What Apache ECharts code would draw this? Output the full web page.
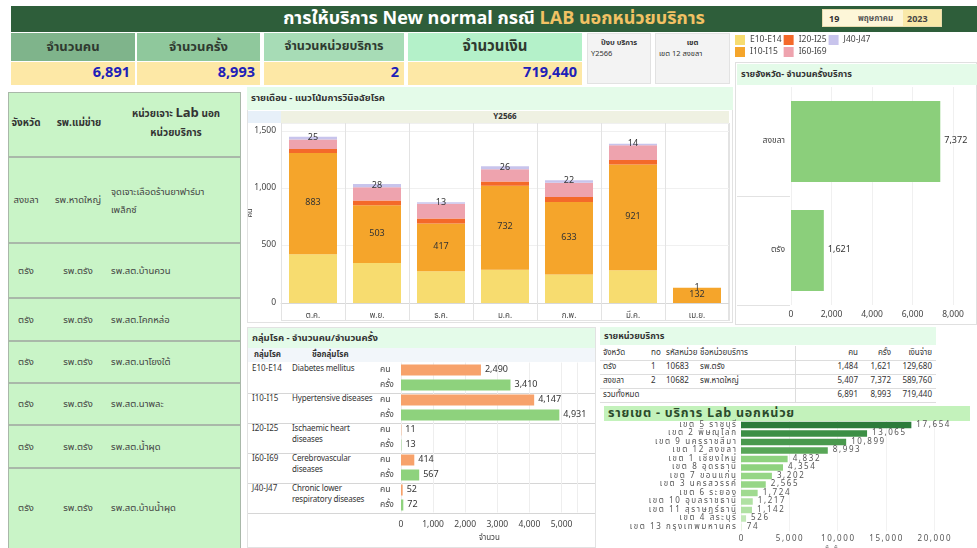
<!DOCTYPE html>
<html><head><meta charset="utf-8">
<script src="https://cdn.jsdelivr.net/npm/echarts@6/dist/echarts.min.js"></script>
<style>
html,body{margin:0;padding:0;}
body{width:977px;height:548px;overflow:hidden;background:#fff;position:relative;font-family:Tahoma,"Noto Sans Thai","Noto Sans","DejaVu Sans",sans-serif;color:#333;}
.a{position:absolute;box-sizing:border-box;white-space:nowrap;}
#chart{position:absolute;left:0;top:0;width:977px;height:548px;z-index:5;pointer-events:none;}
</style></head>
<body>
<div id="bg"></div>
<div id="chart"></div>
<script>
// ---------- DATA ----------
const titleMain = 'การให้บริการ New normal กรณี ';
const titleHi = 'LAB นอกหน่วยบริการ';
const dateParts = ['19','พฤษภาคม','2023'];
const kpiNames = ['จำนวนคน','จำนวนครั้ง','จำนวนหน่วยบริการ','จำนวนเงิน'];
const kpiValues = [6891, 8993, 2, 719440];
const filterYearLabel = 'ปีงบ บริการ', filterYear = 'Y2566';
const filterZoneLabel = 'เขต', filterZone = 'เขต 12 สงขลา';

const tblHead = ['จังหวัด','รพ.แม่ข่าย'];
const tblProv = ['สงขลา','ตรัง','ตรัง','ตรัง','ตรัง','ตรัง','ตรัง'];
const tblHosp = ['รพ.หาดใหญ่','รพ.ตรัง','รพ.ตรัง','รพ.ตรัง','รพ.ตรัง','รพ.ตรัง','รพ.ตรัง'];
const tblUnit = ['จุดเจาะเลือดร้านยาฟาร์มา|เพล็กซ์','รพ.สต.บ้านควน','รพ.สต.โคกหล่อ','รพ.สต.นาโยงใต้','รพ.สต.นาพละ','รพ.สต.น้ำผุด','รพ.สต.บ้านน้ำผุด'];

const months = ['ต.ค.','พ.ย.','ธ.ค.','ม.ค.','ก.พ.','มี.ค.','เม.ย.'];
const groupNames = ['E10-E14','I10-I15','I20-I25','I60-I69','J40-J47'];
const mE10 = [426, 349, 277, 291, 249, 286, 0];
const mI10 = [883, 503, 417, 732, 633, 921, 132];
const mI20 = [35, 43, 43, 37, 43, 40, 0];
const mI60 = [81, 114, 129, 106, 123, 129, 0];
const mJ40 = [25, 28, 13, 26, 22, 14, 1];
const monthTicks = [0, 500, 1000, 1500];

const provinces = ['สงขลา','ตรัง'];
const provVisits = [7372, 1621];

const disCodes = ['E10-E14','I10-I15','I20-I25','I60-I69','J40-J47'];
const disNames = ['Diabetes mellitus','Hypertensive diseases','Ischaemic heart|diseases','Cerebrovascular|diseases','Chronic lower|respiratory diseases'];
const disPersons = [2490, 4147, 11, 414, 52];
const disVisits = [3410, 4931, 13, 567, 72];
const measures = ['คน','ครั้ง'];

const unitHead = ['จังหวัด','no','รหัสหน่วย','ชื่อหน่วยบริการ','คน','ครั้ง','เงินจ่าย'];
const unitProv = ['ตรัง','สงขลา'];
const unitNo = [1, 2];
const unitCode = ['10683','10682'];
const unitName = ['รพ.ตรัง','รพ.หาดใหญ่'];
const unitPersons = [1484, 5407];
const unitVisits = [1621, 7372];
const unitPay = [129680, 589760];
const totalLabel = 'รวมทั้งหมด';
const totalPersons = 6891, totalVisits = 8993, totalPay = 719440;

const zoneNames = ['เขต 5 ราชบุรี','เขต 2 พิษณุโลก','เขต 9 นครราชสีมา','เขต 12 สงขลา','เขต 1 เชียงใหม่','เขต 8 อุดรธานี','เขต 7 ขอนแก่น','เขต 3 นครสวรรค์','เขต 6 ระยอง','เขต 10 อุบลราชธานี','เขต 11 สุราษฎร์ธานี','เขต 4 สระบุรี','เขต 13 กรุงเทพมหานคร'];
const zoneVisits = [17654, 13065, 10899, 8993, 4832, 4354, 3202, 2565, 1724, 1217, 1142, 526, 74];

// ---------- LAYOUT (HTML backgrounds / tables) ----------
const fmt = v => Number(v).toLocaleString('en-US');
const seg = (typeof Intl !== 'undefined' && Intl.Segmenter) ? new Intl.Segmenter('th', { granularity: 'grapheme' }) : null;
const spaced = s => seg ? Array.from(seg.segment(String(s)), x => x.segment).join('\u2009') : String(s);
const bg = document.getElementById('bg');
function box(l, t, w, h, css, html) {
  const d = document.createElement('div');
  d.className = 'a';
  d.style.cssText = `left:${l}px;top:${t}px;width:${w}px;height:${h}px;` + (css || '');
  if (html !== undefined) d.innerHTML = html;
  bg.appendChild(d);
  return d;
}
function txt(l, t, s, css) { return box(l, t, 0, 0, 'width:auto;height:auto;' + (css || ''), s); }

// header bar
box(11, 6, 966, 26, 'background:#2e5e3a;');
box(11, 6, 966, 26, 'text-align:center;line-height:26px;font-size:18px;font-weight:bold;color:#fff;',
  titleMain + `<span style="color:#f2c264">${titleHi}</span>`);
box(822, 9, 120, 18, 'background:#fdf6d8;border:1px solid #e8dcae;');
box(903, 10, 38, 16, 'background:#f9e9a9;');
txt(829, 12, dateParts[0], 'font-size:9px;font-weight:bold;color:#333;');
txt(858, 13, dateParts[1], 'font-size:8px;font-weight:bold;color:#555;');
txt(907, 12, dateParts[2], 'font-size:9px;font-weight:bold;color:#444;');

// KPI cards
const kpiX = [11, 137, 264, 408], kpiW = [124, 123, 140, 174];
const kpiBg = ['#7fb48b', '#8fc89c', '#a7dcb6', '#b4f1c9'];
const kpiFs = [13, 13, 12.5, 15];
kpiNames.forEach((n, i) => {
  box(kpiX[i], 33, kpiW[i], 28, `background:${kpiBg[i]};text-align:center;line-height:28px;font-size:${kpiFs[i]}px;font-weight:bold;color:#2f3a30;`, n);
  box(kpiX[i], 62, kpiW[i], 23, `background:#fde8a6;text-align:right;line-height:23px;font-size:14.5px;font-weight:bold;color:#2020b8;padding-right:5px;`, fmt(kpiValues[i]));
});

// filter cards
box(587, 33, 64, 51, 'background:#f3f3f3;border:1px solid #e2e2e2;font-size:7.5px;color:#333;padding:3px 3px;white-space:normal;',
  `<div style="text-align:center;font-weight:bold">${filterYearLabel}</div><div>${filterYear}</div>`);
box(655, 33, 75, 51, 'background:#f3f3f3;border:1px solid #e2e2e2;font-size:7.5px;color:#333;padding:3px 3px;white-space:normal;',
  `<div style="text-align:center;font-weight:bold">${filterZoneLabel}</div><div>${filterZone}</div>`);

// left table
box(8, 92, 233, 460, 'background:#c9f4c7;border:1.5px solid #a9b8a9;');
[156, 242, 297, 340, 382, 424, 467].forEach(y => box(8, y, 233, 2, 'background:#a9b8a9;'));
box(8, 115, 36, 20, 'text-align:center;font-size:10px;font-weight:bold;color:#333;', tblHead[0]);
box(44, 115, 70, 20, 'text-align:center;font-size:10px;font-weight:bold;color:#333;', tblHead[1]);
box(112, 103, 128, 20, 'text-align:center;font-size:10px;font-weight:bold;color:#333;', 'หน่วยเจาะ <span style="font-size:13px">Lab</span> นอก');
box(112, 125, 128, 20, 'text-align:center;font-size:10px;font-weight:bold;color:#333;', 'หน่วยบริการ');
const rowTops = [156, 242, 297, 340, 382, 424, 467], rowBots = [242, 297, 340, 382, 424, 467, 548];
tblProv.forEach((p, i) => {
  const c = (rowTops[i] + rowBots[i]) / 2 + (i === 6 ? 1 : 2);
  box(8, c - 8, 36, 16, 'text-align:center;font-size:9.5px;color:#444;', p);
  box(44, c - 8, 68, 16, 'text-align:center;font-size:9.5px;color:#444;', tblHosp[i]);
  const parts = tblUnit[i].split('|');
  if (parts.length > 1) {
    box(111, c - 16, 128, 16, 'font-size:9.5px;color:#444;', parts[0]);
    box(111, c + 2, 128, 16, 'font-size:9.5px;color:#444;', parts[1]);
  } else box(111, c - 8, 128, 16, 'font-size:9.5px;color:#444;', parts[0]);
});

// monthly panel
box(247, 87, 486, 236, 'border:1px solid #e2e2e2;');
box(247, 87, 486, 23, 'background:#e4fbe9;font-size:9.5px;font-weight:bold;color:#333;line-height:23px;padding-left:4px;', 'รายเดือน - แนวโน้มการวินิจฉัยโรค');
box(248, 111, 33, 12, 'background:#e7f0f9;');
box(281, 111, 448, 12, 'background:#eff1e2;text-align:center;font-size:8px;font-weight:bold;line-height:12px;color:#333;', filterYear);
box(281, 123, 448, 198, 'border-left:1px solid #e3e3e3;border-right:1px solid #e3e3e3;border-bottom:1px solid #e3e3e3;');

// province panel
box(735, 62, 242, 263, 'border:1px solid #e0e0e0;');
box(737, 64, 240, 21, 'background:#e4fbe9;font-size:9px;font-weight:bold;color:#333;line-height:21px;padding-left:4px;', 'รายจังหวัด- จำนวนครั้งบริการ');
box(737, 196, 53, 1, 'background:#e2e2e2;');
box(737, 305, 53, 1, 'background:#e2e2e2;');

// disease panel
box(247, 327, 349, 221, 'border:1px solid #e2e2e2;');
box(248, 328, 347, 20, 'background:#e4fbe9;font-size:9.5px;font-weight:bold;color:#333;line-height:20px;padding-left:4px;', 'กลุ่มโรค - จำนวนคน/จำนวนครั้ง');
box(248, 348, 347, 14, 'background:#f2f6fa;');
box(254, 349, 50, 13, 'font-size:8px;font-weight:bold;color:#333;', 'กลุ่มโรค');
box(312, 349, 60, 13, 'font-size:8px;font-weight:bold;color:#333;', 'ชื่อกลุ่มโรค');
disCodes.forEach((c, i) => {
  const t = 362.5 + 30 * i;
  if (i > 0) box(248, t, 347, 1, 'background:#d6d6d6;');
  box(252, t + 0.5, 40, 12, 'font-size:8px;color:#333;', c);
  const nm = disNames[i].split('|');
  nm.forEach((s, k) => box(292, t + 0.5 + k * 11, 86, 12, 'font-size:8px;color:#333;letter-spacing:-0.15px;', s));
});
box(248, 512.5, 347, 1, 'background:#d6d6d6;');

// service unit table
box(600, 327, 336, 18, 'background:#e4fbe9;font-size:9px;font-weight:bold;color:#333;line-height:18px;padding-left:4px;', 'รายหน่วยบริการ');
const ux = [603, 651, 666, 700], urx = [858, 891, 932];
const rowH = 14;
function unitRow(y, cells) {
  const st = `font-size:8px;color:#333;line-height:${rowH}px;`;
  cells.slice(0, 4).forEach((s, k) => { if (s !== '') box(ux[k], y, 70, rowH, st, s); });
  cells.slice(4).forEach((s, k) => box(urx[k] - 60, y, 60, rowH, st + 'text-align:right;', s));
}
unitRow(346, unitHead);
box(600, 360, 336, 1, 'background:#ddd;');
unitProv.forEach((p, i) => {
  unitRow(360 + rowH * i, [p, String(unitNo[i]), unitCode[i], unitName[i], fmt(unitPersons[i]), fmt(unitVisits[i]), fmt(unitPay[i])]);
  box(600, 360 + rowH * (i + 1), 336, 1, 'background:#ddd;');
});
unitRow(360 + rowH * 2, [totalLabel, '', '', '', fmt(totalPersons), fmt(totalVisits), fmt(totalPay)]);
box(600, 360 + rowH * 3, 336, 1, 'background:#ddd;');
box(795, 346, 1, 14 + rowH * 3, 'background:#ddd;');

// zone chart title
box(604, 406, 366, 15, 'background:#c3f2bb;font-size:12.5px;font-weight:bold;color:#2b4a2b;line-height:15px;padding-left:4px;letter-spacing:0.8px;', 'รายเขต - บริการ Lab นอกหน่วย');

// ---------- CHARTS ----------
const F = 'Tahoma,"Noto Sans Thai","Noto Sans","DejaVu Sans",sans-serif';
const stackColors = ['#f7dc6f', '#f5a52b', '#f4692a', '#eea3ae', '#c8c4ec'];
const monthSeries = [mE10, mI10, mI20, mI60, mJ40];
function zoneColor(v) {
  if (v >= 17000) return '#2c7b3b';
  if (v >= 12000) return '#3c8f45';
  if (v >= 10000) return '#49994d';
  if (v >= 8000) return '#58a657';
  if (v >= 4000) return '#8ed27e';
  if (v >= 2000) return '#96d686';
  if (v >= 1500) return '#a0da90';
  if (v >= 1000) return '#b0e1a3';
  if (v >= 400) return '#c2e8b7';
  return '#dcf2d4';
}
const chart = echarts.init(document.getElementById('chart'));
const series = [];
monthSeries.forEach((d, i) => {
  series.push({
    name: groupNames[i], type: 'bar', stack: 'm', xAxisIndex: 0, yAxisIndex: 0,
    barWidth: '75%', data: d, itemStyle: { color: stackColors[i] },
    label: (i === 1 || i === 4) ? { show: true, position: 'inside', fontSize: 9, color: '#333', fontFamily: F, formatter: p => p.value ? fmt(p.value) : '' } : { show: false }
  });
});
series.push({
  type: 'bar', xAxisIndex: 1, yAxisIndex: 1, barWidth: 81, data: provVisits,
  itemStyle: { color: '#8bcf7b' },
  label: { show: true, position: 'right', fontSize: 9, color: '#333', distance: 4, formatter: p => fmt(p.value) }
});
const disCats = [];
disCodes.forEach(c => measures.forEach(m => disCats.push(c + '|' + m)));
const pData = [], vData = [];
disCodes.forEach((c, i) => { pData.push(disPersons[i], '-'); vData.push('-', disVisits[i]); });
series.push({
  type: 'bar', stack: 'd', xAxisIndex: 2, yAxisIndex: 2, barWidth: 11, data: pData,
  itemStyle: { color: '#f7a26b' },
  label: { show: true, position: 'right', fontSize: 9, color: '#333', distance: 4, formatter: p => fmt(p.value) }
});
series.push({
  type: 'bar', stack: 'd', xAxisIndex: 2, yAxisIndex: 2, barWidth: 11, data: vData,
  itemStyle: { color: '#8ed27d' },
  label: { show: true, position: 'right', fontSize: 9, color: '#333', distance: 4, formatter: p => fmt(p.value) }
});
series.push({
  type: 'bar', xAxisIndex: 3, yAxisIndex: 3, barWidth: 6.5, data: zoneVisits,
  itemStyle: { color: p => zoneColor(p.value) },
  label: { show: true, position: 'right', fontSize: 8, color: '#555', distance: 5, formatter: p => spaced(fmt(p.value)) }
});

const grid = [
  { left: 281, right: 248, top: 123, bottom: 245, outerBoundsMode: 'none' },
  { left: 791, right: 24, top: 87, bottom: 243, outerBoundsMode: 'none' },
  { left: 401, right: 977 - 577.6, top: 362.5, bottom: 548 - 512.5, outerBoundsMode: 'none' },
  { left: 741, right: 43, top: 420.75, bottom: 16.75, outerBoundsMode: 'none' }
];
const option = {
  animation: false,
  textStyle: { fontFamily: F },
  legend: {
    data: groupNames, left: 735, top: 35, orient: 'vertical', height: 26, padding: 0,
    itemWidth: 10, itemHeight: 10, itemGap: 2, icon: 'rect',
    textStyle: { fontSize: 8.5, color: '#444', fontFamily: F, padding: [0, 12, 0, 0] }
  },
  grid,
  xAxis: [
    { gridIndex: 0, type: 'category', data: months,
      axisLine: { lineStyle: { color: '#d8d8d8' } },
      axisTick: { show: true, length: 18, lineStyle: { color: '#e3e3e3' } },
      axisLabel: { fontSize: 8, color: '#444', margin: 9, fontFamily: F },
      splitLine: { show: true, lineStyle: { color: '#e3e3e3' } } },
    { gridIndex: 1, type: 'value', min: 0, max: 8000, interval: 2000,
      axisLine: { show: false }, axisTick: { show: false },
      axisLabel: { fontSize: 8.5, color: '#444', margin: 6, formatter: v => fmt(v), fontFamily: F },
      splitLine: { lineStyle: { color: '#f0f0f0' } } },
    { gridIndex: 2, type: 'value', min: 0, max: 5500, interval: 1000,
      axisLine: { show: false }, axisTick: { show: false },
      axisLabel: { fontSize: 8.5, color: '#444', margin: 8, formatter: v => (v % 1000 === 0 ? fmt(v) : ''), fontFamily: F },
      splitLine: { lineStyle: { color: '#eeeeee' } },
      name: 'จำนวน', nameLocation: 'middle', nameGap: 22, nameMoveOverlap: false, nameTextStyle: { fontSize: 8, color: '#444', fontFamily: F } },
    { gridIndex: 3, type: 'value', min: 0, max: 20000, interval: 5000,
      axisLine: { show: false }, axisTick: { show: false },
      axisLabel: { fontSize: 8, color: '#555', margin: 4, formatter: v => spaced(fmt(v)), fontFamily: F },
      splitLine: { lineStyle: { color: '#f2f2f2' } },
      name: 'ครั้งทั้งหมด', nameLocation: 'middle', nameGap: 16, nameMoveOverlap: false, nameTextStyle: { fontSize: 8, color: '#555', fontFamily: F } }
  ],
  yAxis: [
    { gridIndex: 0, type: 'value', min: 0, max: 1570, interval: 500,
      axisLine: { show: false }, axisTick: { show: false },
      axisLabel: { fontSize: 8.5, color: '#444', margin: 5, formatter: v => (monthTicks.indexOf(v) >= 0 ? fmt(v) : ''), fontFamily: F },
      splitLine: { lineStyle: { color: '#f0f0f0' } },
      name: 'คน', nameLocation: 'middle', nameRotate: 90, nameGap: 27, nameMoveOverlap: false, nameTextStyle: { fontSize: 7.5, color: '#444', fontFamily: F } },
    { gridIndex: 1, type: 'category', data: provinces, inverse: true,
      axisLine: { show: false }, axisTick: { show: false },
      axisLabel: { fontSize: 8.5, color: '#444', margin: 6, fontFamily: F } },
    { gridIndex: 2, type: 'category', data: disCats, inverse: true,
      axisLine: { show: false }, axisTick: { show: false },
      axisLabel: { fontSize: 8.5, color: '#444', margin: 21, align: 'left', formatter: v => v.split('|')[1], fontFamily: F } },
    { gridIndex: 3, type: 'category', data: zoneNames, inverse: true,
      axisLine: { show: false }, axisTick: { show: false },
      axisLabel: { fontSize: 8, color: '#555', margin: 5, interval: 0, formatter: v => spaced(v), fontFamily: F } }
  ],
  series
};
chart.setOption(option);
</script>
</body></html>
